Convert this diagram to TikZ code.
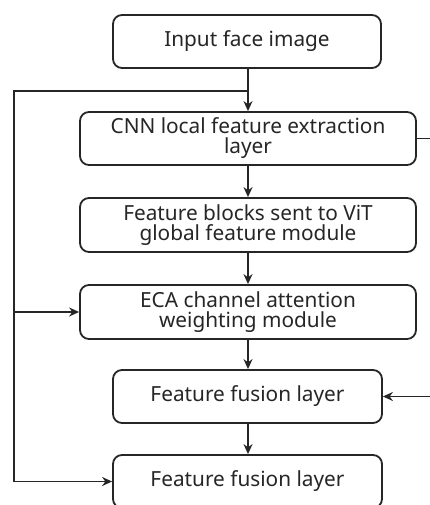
\documentclass[tikz,border=0pt]{standalone}
\usepackage{fontspec}
\setmainfont{Noto Sans}
\usetikzlibrary{arrows.meta}
\tikzset{
  stage/.style={draw=black!85, line width=1.8pt, rounded corners=9pt, align=center,
    inner sep=0pt, font=\fontsize{20.8}{20}\selectfont, text=black!85},
  flow/.style={draw=black!85, line width=1.7pt, -{Stealth[length=10pt,width=9pt]}},
  wire/.style={draw=black!85, line width=1.7pt}
}
\begin{document}
\begin{tikzpicture}[x=1pt,y=-1pt]
  \useasboundingbox (0,0) rectangle (430,505);
  \clip (0,0) rectangle (430,505);
  \fill[white] (0,0) rectangle (430,505);

  \node[stage, minimum width=268pt, minimum height=53pt] (input) at (247,41.5) {Input face image};
  \node[stage, minimum width=336pt, minimum height=53pt] (cnn) at (248,138.5) {CNN local feature extraction\\layer};
  \node[stage, minimum width=336pt, minimum height=54pt] (vit) at (248,225) {Feature blocks sent to ViT\\global feature module};
  \node[stage, minimum width=336pt, minimum height=54pt] (eca) at (248,312) {ECA channel attention\\weighting module};
  \node[stage, minimum width=269pt, minimum height=53pt] (fuse1) at (247.5,396.5) {Feature fusion layer};
  \node[stage, minimum width=269pt, minimum height=53pt] (fuse2) at (247.5,481.5) {Feature fusion layer};

  % main vertical flow
  \coordinate (split) at (248,91);
  \coordinate (leftTop) at (14,91);
  \coordinate (leftEca) at (14,312);
  \coordinate (leftBot) at (14,481.5);
  \draw[wire] (input.south -| split) -- (split);
  \draw[flow] (split) -- (cnn.north -| split);
  \draw[flow] (cnn.south -| split) -- (vit.north -| split);
  \draw[flow] (vit.south -| split) -- (eca.north -| split);
  \draw[flow] (eca.south -| split) -- (fuse1.north -| split);
  \draw[flow] (fuse1.south -| split) -- (fuse2.north -| split);

  % skip connection on the left
  \draw[wire] (split) -- (leftTop) -- (leftBot);
  \draw[flow] (leftEca) -- (eca.west);
  \draw[flow] (leftBot) -- (fuse2.west);

  % CNN features routed round the right side into the first fusion layer
  \coordinate (rightTop) at (445,138.5);
  \coordinate (rightBot) at (445,396.5);
  \draw[flow] (cnn.east) -- (rightTop) -- (rightBot) -- (fuse1.east);
\end{tikzpicture}
\end{document}
